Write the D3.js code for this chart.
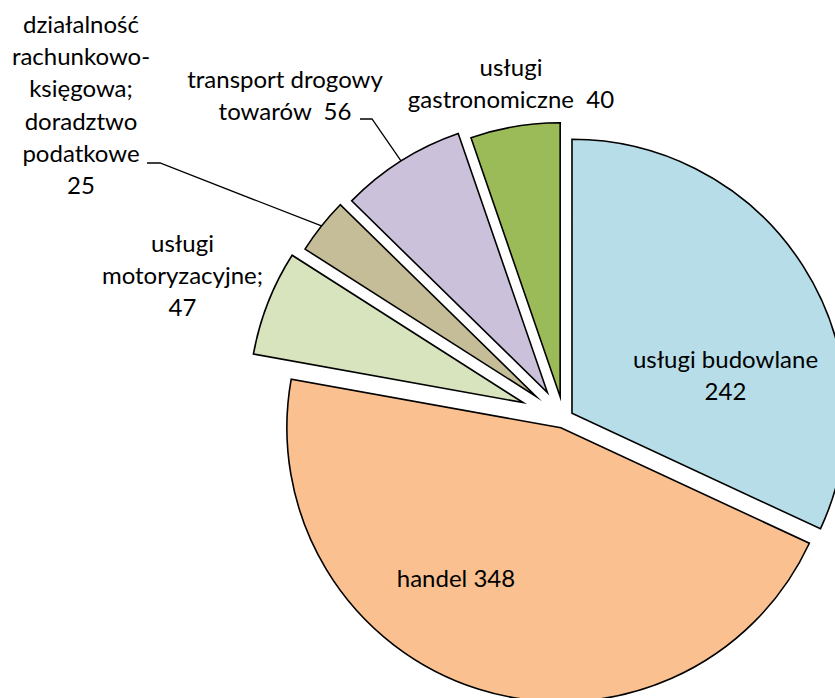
<!DOCTYPE html>
<html>
<head>
<meta charset="utf-8">
<script src="https://cdn.jsdelivr.net/npm/d3@7/dist/d3.min.js"></script>
<style>
  html, body { margin: 0; padding: 0; background: #ffffff; }
  svg { display: block; }
  text { font-family: Lato, "Open Sans", sans-serif; fill: #000; white-space: pre; }
</style>
</head>
<body>
<svg id="chart" width="835" height="698"></svg>
<script>
// ---- data ----
const categories = [
  "usługi budowlane",
  "handel",
  "usługi motoryzacyjne",
  "działalność rachunkowo-księgowa; doradztwo podatkowe",
  "transport drogowy towarów",
  "usługi gastronomiczne"
];
const values = [242, 348, 47, 25, 56, 40];
// label text lines ({v} = value)
const labelLines = [
  ["usługi budowlane", "{v}"],
  ["handel {v}"],
  ["usługi", "motoryzacyjne;", "{v}"],
  ["działalność", "rachunkowo-", "księgowa;", "doradztwo", "podatkowe", "{v}"],
  ["transport drogowy", "towarów  {v}"],
  ["usługi", "gastronomiczne  {v}"]
];

// ---- style / layout ----
const colors = ["#B7DEE8", "#FAC090", "#D7E4BD", "#C4BD97", "#CCC1DA", "#9BBB59"];
const explode = [9.7, 9.7, 43.7, 35.5, 30.7, 22];
const labelPos = [ // text centre x, first baseline y
  [725.5, 368], [456, 587], [182.5, 252], [81, 33], [285, 88], [511, 76]
];
const leaderStart = [null, null, null, [[147, 163], [160, 163]], [[360, 119], [372, 119]], null];
const lineGap = 32.2;
const fontSize = 24;

const W = 835, H = 698;
const cx = 563.8, cy = 418.5, R = 274;

const svg = d3.select("#chart");
svg.append("rect").attr("width", W).attr("height", H).attr("fill", "#fff");

const pie = d3.pie().sort(null).value(d => d);
const arcs = pie(values);
const arc = d3.arc().innerRadius(0).outerRadius(R);

const g = svg.append("g").attr("transform", `translate(${cx},${cy})`);

const offs = arcs.map((a, i) => {
  const m = (a.startAngle + a.endAngle) / 2;
  return [Math.sin(m) * explode[i], -Math.cos(m) * explode[i]];
});

g.selectAll("path.slice")
  .data(arcs)
  .join("path")
  .attr("class", "slice")
  .attr("transform", (d, i) => `translate(${offs[i][0]},${offs[i][1]})`)
  .attr("d", arc)
  .attr("fill", (d, i) => colors[i])
  .attr("stroke", "#000")
  .attr("stroke-width", 1.6)
  .attr("stroke-linejoin", "miter")
  .attr("stroke-miterlimit", 10);

// leader lines
arcs.forEach((a, i) => {
  if (!leaderStart[i]) return;
  const m = (a.startAngle + a.endAngle) / 2;
  const ex = cx + offs[i][0] + Math.sin(m) * R;
  const ey = cy + offs[i][1] - Math.cos(m) * R;
  const pts = leaderStart[i].concat([[ex, ey]]);
  svg.append("path")
    .attr("d", d3.line()(pts))
    .attr("fill", "none")
    .attr("stroke", "#000")
    .attr("stroke-width", 1.3);
});

// labels
labelLines.forEach((lines, i) => {
  const t = svg.append("text")
    .attr("text-anchor", "middle")
    .attr("font-size", fontSize)
    .attr("xml:space", "preserve");
  lines.forEach((ln, k) => {
    t.append("tspan")
      .attr("x", labelPos[i][0])
      .attr("y", labelPos[i][1] + k * lineGap)
      .text(ln.replace("{v}", values[i]));
  });
});
</script>
</body>
</html>
